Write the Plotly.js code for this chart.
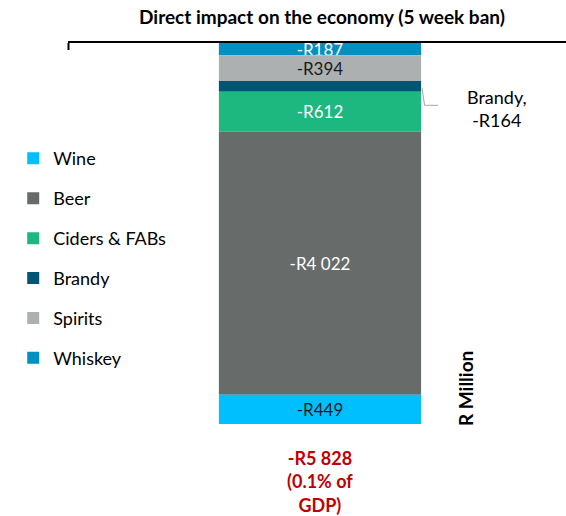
<!DOCTYPE html>
<html>
<head>
<meta charset="utf-8">
<script src="https://cdn.plot.ly/plotly-3.0.1.min.js"></script>
<style>
html,body{margin:0;padding:0;background:#fff;}
#chart{width:566px;height:516px;}
</style>
</head>
<body>
<div id="chart"></div>
<script>
// Stacked from top (nearest zero) to bottom
const categories = ["Whiskey", "Spirits", "Brandy", "Ciders & FABs", "Beer", "Wine"];
const values = [-187, -394, -164, -612, -4022, -449];
const colors = ["#0091C2", "#ADB0B1", "#005474", "#1DB880", "#676B6A", "#00BFFF"];
const labelColors = ["#ffffff", "#1a1a1a", "#ffffff", "#ffffff", "#ffffff", "#1a1a1a"];
const showLabel = [true, true, false, true, true, true];
const totalLabel = "-R5 828<br>(0.1% of<br>GDP)";
const chartTitle = "Direct impact on the economy (5 week ban)";
const unitLabel = "R Million";

function fmt(v){
  const a = Math.abs(v).toString().replace(/\B(?=(\d{3})+(?!\d))/g, " ");
  return (v < 0 ? "-R" : "R") + a;
}

const FONT = "Lato, 'Open Sans', sans-serif";
const BARW = 0.406;

const traces = categories.map((c, i) => ({
  type: "bar",
  name: c,
  x: [0],
  y: [values[i]],
  width: [BARW],
  marker: {color: colors[i], line: {width: 0}},
  text: [showLabel[i] ? fmt(values[i]) : ""],
  textposition: "inside",
  insidetextanchor: "middle",
  constraintext: "none",
  textangle: 0,
  insidetextfont: {family: FONT, size: 17, color: labelColors[i]},
  legendgroup: c,
  legendrank: categories.length - i,
  hoverinfo: "skip",
  cliponaxis: false
}));

// Brandy leader line position derived from data
const bIdx = categories.indexOf("Brandy");
let cum = 0;
for (let i = 0; i < bIdx; i++) cum += values[i];
const brandyMid = cum + values[bIdx] / 2;
const total = values.reduce((a, b) => a + b, 0);

const layout = {
  width: 566, height: 516,
  margin: {l: 68, r: 0, t: 43, b: 92},
  paper_bgcolor: "#fff", plot_bgcolor: "#fff",
  barmode: "relative",
  showlegend: true,
  title: {text: "<b>" + chartTitle + "</b>", font: {family: FONT, size: 19, color: "#000"},
          x: 0.51, xanchor: "center", y: 0.967, yanchor: "middle", xref: "paper", yref: "container"},
  xaxis: {range: [-0.506, 0.494], side: "top", showline: true, linecolor: "#000", linewidth: 2,
          showgrid: false, zeroline: false, showticklabels: false, ticks: "", fixedrange: true},
  yaxis: {range: [total, 0], showline: false, showgrid: false, zeroline: false,
          showticklabels: false, ticks: "", fixedrange: true},
  legend: {x: -0.11, xanchor: "left", y: 0.745, yanchor: "top", traceorder: "grouped",
           tracegroupgap: 13.5, font: {family: FONT, size: 18, color: "#000"}, bgcolor: "rgba(0,0,0,0)"},
  shapes: [
    {type: "line", xref: "paper", yref: "paper", x0: 0.001, x1: 0.001, y0: 1, y1: 1 - 7/381,
     line: {color: "#000", width: 2}},
    {type: "path", xref: "x", yref: "y",
     path: "M " + (BARW/2 + 0.002) + "," + (brandyMid - 25) + " L " + (BARW/2 + 0.007) + "," + (brandyMid - 290) +
           " L " + (BARW/2 + 0.034) + "," + (brandyMid - 290),
     line: {color: "#A6A6A6", width: 1}}
  ],
  annotations: [
    {text: "Brandy,<br>" + fmt(values[bIdx]), xref: "paper", yref: "paper", x: 0.861, y: 0.829,
     xanchor: "center", yanchor: "middle", showarrow: false, align: "center",
     font: {family: FONT, size: 18, color: "#000"}},
    {text: "<b>" + unitLabel + "</b>", xref: "paper", yref: "paper", x: 0.797, y: 0.094,
     xanchor: "center", yanchor: "middle", showarrow: false, textangle: -90,
     font: {family: FONT, size: 19, color: "#000"}},
    {text: "<b>" + totalLabel + "</b>", xref: "x", yref: "paper", x: 0, y: -0.15,
     xanchor: "center", yanchor: "middle", showarrow: false, align: "center",
     font: {family: FONT, size: 18, color: "#C00000"}}
  ]
};

Plotly.newPlot("chart", traces, layout, {displayModeBar: false, staticPlot: true});
</script>
</body>
</html>
